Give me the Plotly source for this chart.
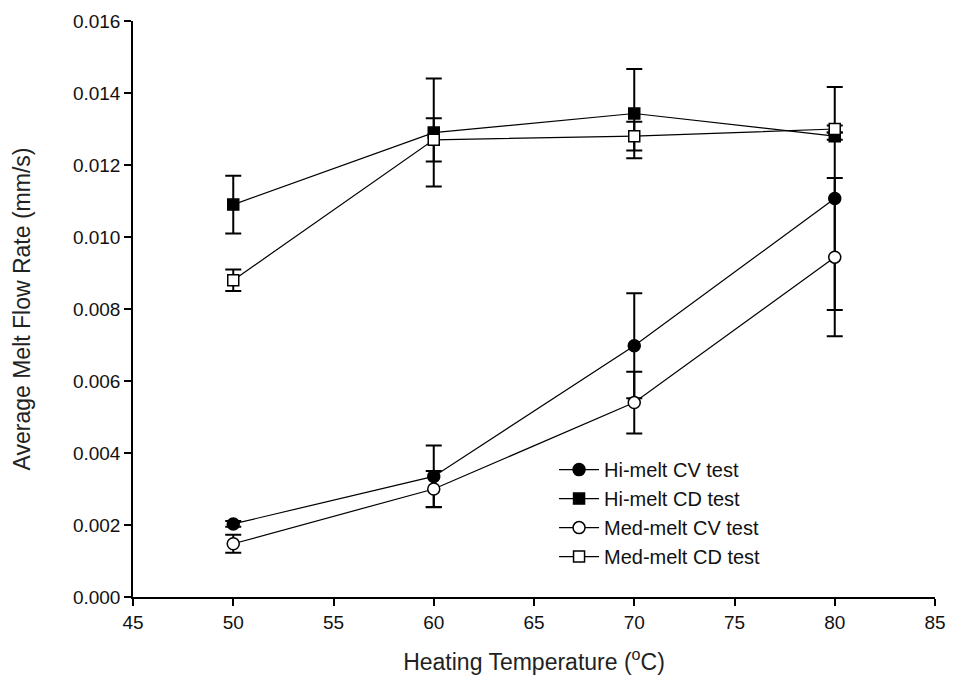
import plotly.graph_objects as go

temps = [50, 60, 70, 80]

hi_cv = [0.00203, 0.00335, 0.00698, 0.01107]
hi_cv_err = [0.00008, 0.00086, 0.00146, 0.0031]

hi_cd = [0.0109, 0.0129, 0.01343, 0.0128]
hi_cd_err = [0.0008, 0.0015, 0.00124, 0.0001]

med_cv = [0.00148, 0.00300, 0.0054, 0.00944]
med_cv_err = [0.00025, 0.0005, 0.00086, 0.0022]

med_cd = [0.0088, 0.0127, 0.0128, 0.0130]
med_cd_err = [0.0003, 0.0006, 0.0004, 0.0001]

series = [
    ("Hi-melt CV test", hi_cv, hi_cv_err, "circle", "black"),
    ("Hi-melt CD test", hi_cd, hi_cd_err, "square", "black"),
    ("Med-melt CV test", med_cv, med_cv_err, "circle", "white"),
    ("Med-melt CD test", med_cd, med_cd_err, "square", "white"),
]

fig = go.Figure()
for name, ys, errs, sym, fill in series:
    fig.add_trace(go.Scatter(
        x=temps, y=ys, name=name, mode="lines+markers",
        line=dict(color="black", width=1.2),
        marker=dict(symbol=sym, size=12 if sym == "circle" else 11, color=fill,
                    line=dict(color="black", width=1.5)),
        error_y=dict(type="data", array=errs, visible=True, color="black",
                     thickness=2, width=8),
    ))

font_family = "Liberation Sans, Arial, sans-serif"
fig.update_layout(
    width=957, height=683,
    margin=dict(l=133, r=11, t=19, b=86),
    paper_bgcolor="white", plot_bgcolor="white",
    font=dict(family=font_family, color="#111", size=19),
    showlegend=True,
    legend=dict(x=0.525, y=0.255, xanchor="left", yanchor="top",
                bgcolor="rgba(0,0,0,0)", font=dict(size=20, color="#111"),
                tracegroupgap=0, itemwidth=40),
    xaxis=dict(range=[45, 85], dtick=5, tick0=45, showgrid=False, zeroline=False,
               showline=True, linecolor="black", linewidth=1.5,
               ticks="outside", ticklen=7, tickcolor="black", tickwidth=1.5,
               tickfont=dict(size=19),
               title=dict(text="Heating Temperature (<sup>o</sup>C)",
                          font=dict(size=23, color="#222"), standoff=22)),
    yaxis=dict(range=[0, 0.016], dtick=0.002, tickformat=".3f", showgrid=False,
               zeroline=False, showline=True, linecolor="black", linewidth=1.5,
               ticks="outside", ticklen=7, tickcolor="black", tickwidth=1.5,
               tickfont=dict(size=19),
               title=dict(text="Average Melt Flow Rate (mm/s)",
                          font=dict(size=23, color="#222"), standoff=36)),
)

fig.write_html("out.html")
